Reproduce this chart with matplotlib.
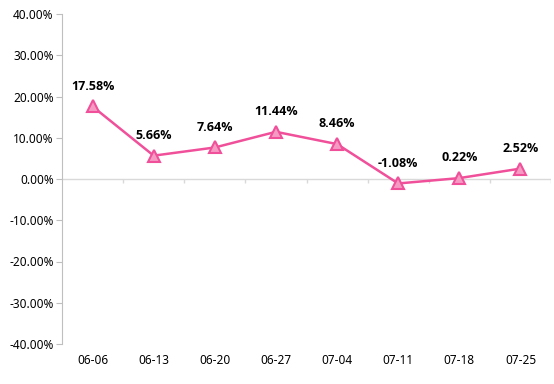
import matplotlib
matplotlib.use("Agg")
import matplotlib.pyplot as plt
import matplotlib.ticker as mticker
import numpy as np

# Data
DATES = ["06-06", "06-13", "06-20", "06-27", "07-04", "07-11", "07-18", "07-25"]
VALUES = [17.58, 5.66, 7.64, 11.44, 8.46, -1.08, 0.22, 2.52]

LINE_COLOR = "#F0509A"
FACE_COLOR = "#F59AC3"
AXIS_COLOR = "#BFBFBF"

plt.rcParams["font.family"] = ["Noto Sans", "DejaVu Sans"]

fig = plt.figure(figsize=(5.54, 3.84), dpi=100)
ax = fig.add_axes([62 / 554, 1 - 344 / 384, 489 / 554, 330 / 384])

x = np.arange(len(DATES))
ax.plot(x, VALUES, color=LINE_COLOR, linewidth=1.8, marker="^", markersize=9,
        markerfacecolor=FACE_COLOR, markeredgecolor=LINE_COLOR,
        markeredgewidth=1.5, zorder=3)

for xi, v in zip(x, VALUES):
    ax.annotate(f"{v:.2f}%", (xi, v), xytext=(0, 10), textcoords="offset points",
                ha="center", va="bottom", fontsize=9, fontweight="bold",
                family=["Open Sans", "DejaVu Sans"], color="black")

# zero category axis with boundary ticks
ax.axhline(0, color="#D9D9D9", linewidth=1.0, zorder=1)
bounds = np.arange(0.5, len(DATES) + 0.5, 1.0)
ax.vlines(bounds, -1.0, 0, color="#D9D9D9", linewidth=1.0, zorder=1)

ax.set_xlim(-0.5, len(DATES) - 0.5)
ax.set_ylim(-40, 40)
ax.set_yticks(np.arange(-40, 41, 10))
ax.yaxis.set_major_formatter(mticker.FuncFormatter(lambda v, _: f"{v:.2f}%"))
ax.set_xticks(x)
ax.set_xticklabels(DATES)

for s in ("top", "right", "bottom"):
    ax.spines[s].set_visible(False)
ax.spines["left"].set_color(AXIS_COLOR)
ax.tick_params(axis="y", colors=AXIS_COLOR, labelcolor="black", length=4,
               labelsize=8.5, pad=2)
ax.tick_params(axis="x", length=0, labelsize=8.5, pad=7)

fig.savefig("out.png", dpi=100, facecolor="white")
